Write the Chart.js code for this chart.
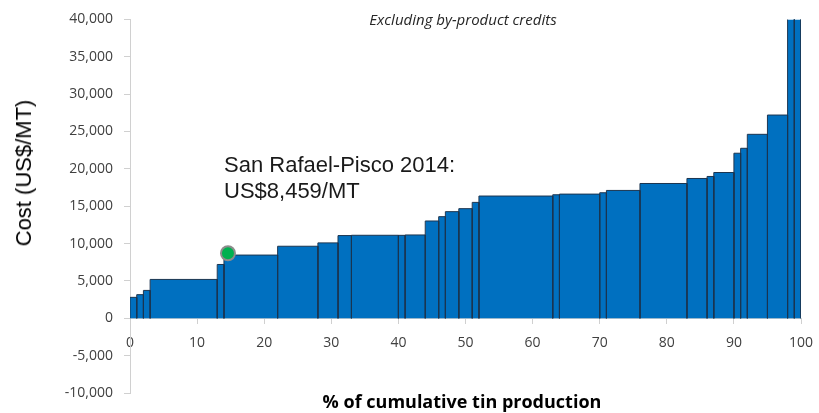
<!DOCTYPE html>
<html>
<head>
<meta charset="utf-8">
<script src="https://cdn.jsdelivr.net/npm/chart.js@4/dist/chart.umd.min.js"></script>
<style>
    body { margin: 0; background: #fff; overflow: hidden; }
    #wrap { position: relative; width: 819px; height: 413px; }
    .note { position: absolute; white-space: nowrap; }
    .top-note { left: 463px; top: 9px; transform: translateX(-50%); font: italic 15px 'Open Sans'; line-height: 20px; color: #262626; }
    .callout { left: 224px; top: 152px; font: 22px 'Liberation Sans', Arial; line-height: 26px; color: #1a1a1a; }
    .y-title { left: 24px; top: 173px; transform: translate(-50%, -50%) rotate(-90deg); font: 22px 'Liberation Sans', Arial; line-height: 24px; color: #000; }
    .x-title { left: 462px; top: 390px; transform: translateX(-50%); font: bold 18px 'Open Sans'; line-height: 22px; color: #000; }
</style>
</head>
<body>
<div id="wrap">
    <canvas id="costCurve" width="819" height="413"></canvas>
    <div class="note top-note">Excluding by-product credits</div>
    <div class="note callout">San Rafael-Pisco 2014:<br>US$8,459/MT</div>
    <div class="note y-title">Cost (US$/MT)</div>
    <div class="note x-title">% of cumulative tin production</div>
</div>
<script>
// Cumulative production edges (%) and the cost of each block between them
const pctEdges = [0, 1, 2, 3, 13, 14, 22, 28, 31, 33, 40, 41, 44, 46, 47, 49, 51, 52,
    63, 64, 70, 71, 76, 83, 86, 87, 90, 91, 92, 95, 98, 99, 100];
const unitCosts = [2800, 3160, 3730, 5200, 7200, 8459, 9640, 10090, 11070, 11110, 11100, 11150,
    13020, 13600, 14270, 14670, 15510, 16360, 16530, 16620, 16800, 17110, 18040, 18710,
    18980, 19510, 22090, 22750, 24620, 27200, 45000, 45000];

// San Rafael marker [% production, cost]
const markerPoint = [14.6, 8700];

// Axis ranges
const xRange = [0, 100];
const xStep = 10;
const yRange = [-10000, 40000];
const yStep = 5000;

const BAR_FILL = '#0070c0';
const BAR_EDGE = '#1b3550';
const AXIS_GREY = '#d0d0d0';
const TICK_FONT = { family: 'Open Sans', size: 14 };

// One filled outline per cost block so widths follow production share
const blockSets = unitCosts.map((cost, i) => ({
    type: 'line',
    data: [
        { x: pctEdges[i], y: 0 },
        { x: pctEdges[i], y: cost },
        { x: pctEdges[i + 1], y: cost },
        { x: pctEdges[i + 1], y: 0 }
    ],
    fill: 'origin',
    backgroundColor: BAR_FILL,
    borderColor: BAR_EDGE,
    borderWidth: 1,
    pointRadius: 0,
    tension: 0,
    order: 2
}));

const markerSet = {
    type: 'scatter',
    data: [{ x: markerPoint[0], y: markerPoint[1] }],
    backgroundColor: '#00b050',
    borderColor: '#8c8c8c',
    borderWidth: 2,
    pointRadius: 7,
    order: 0
};

new Chart(document.getElementById('costCurve'), {
    type: 'line',
    data: { datasets: [markerSet, ...blockSets] },
    options: {
        responsive: false,
        animation: false,
        layout: { padding: { top: 18, right: 18, bottom: 20, left: 0 } },
        plugins: {
            legend: { display: false },
            tooltip: { enabled: false }
        },
        scales: {
            x: {
                type: 'linear',
                position: { y: 0 },
                min: xRange[0],
                max: xRange[1],
                ticks: {
                    stepSize: xStep,
                    font: TICK_FONT,
                    color: '#404040',
                    padding: 11,
                    maxRotation: 0
                },
                grid: { drawOnChartArea: false, tickLength: 5, color: AXIS_GREY },
                border: { color: AXIS_GREY },
                afterFit: (scale) => { scale.paddingLeft = 0; scale.paddingRight = 0; }
            },
            y: {
                min: yRange[0],
                max: yRange[1],
                ticks: {
                    stepSize: yStep,
                    font: TICK_FONT,
                    color: '#404040',
                    padding: 11,
                    callback: (v) => v.toLocaleString('en-US')
                },
                grid: { drawOnChartArea: false, tickLength: 6, color: AXIS_GREY },
                border: { color: AXIS_GREY },
                afterFit: (scale) => { scale.width = 130; }
            }
        }
    }
});
</script>
</body>
</html>
